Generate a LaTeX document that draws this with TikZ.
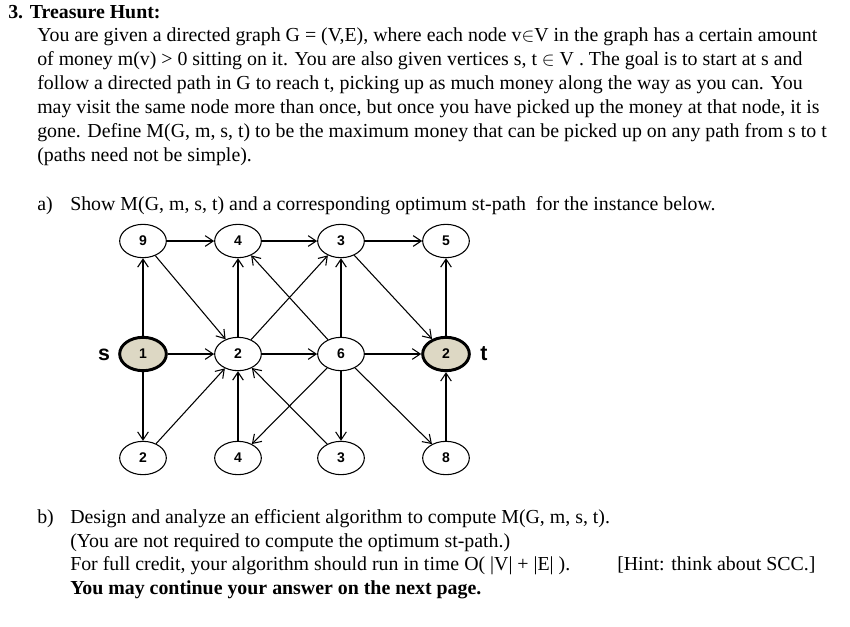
\documentclass[tikz,border=0pt]{standalone}
\usepackage{fontspec}
\setmainfont{Liberation Serif}
\newfontfamily\sansb{Liberation Sans}
\usetikzlibrary{arrows.meta,shapes.geometric}
\begin{document}
\begin{tikzpicture}[x=0.75pt,y=-0.75pt,
  txt/.style={anchor=base west,inner sep=0pt,font=\fontsize{14.9pt}{17pt}\selectfont},
  v/.style={ellipse,draw,line width=0.8pt,minimum width=35pt,minimum height=25pt,inner sep=0pt,font=\sansb\bfseries\fontsize{10.5pt}{12pt}\selectfont},
  st/.style={v,line width=2.2pt,fill={rgb,255:red,221;green,216;blue,196}},
  e/.style={-{Straight Barb[length=6pt,width=8pt]},line width=0.8pt},
  lab/.style={font=\sansb\bfseries\fontsize{16pt}{18pt}\selectfont,inner sep=0pt}]
\useasboundingbox (0,0) rectangle (850,626);
\node[txt,font=\bfseries\fontsize{14.9pt}{17pt}\selectfont] (t0) at (8,18) {3. Treasure Hunt:};
\node[txt] (l1) at (37,41) {You are given a directed graph G = (V,E), where each node v$\in$V in the graph has a certain amount};
\node[txt] (l2) at (37,65) {of money m(v) > 0 sitting on it. You are also given vertices s, t $\in$ V . The goal is to start at s and};
\node[txt] (l3) at (37,89) {follow a directed path in G to reach t, picking up as much money along the way as you can. You};
\node[txt] (l4) at (37,113) {may visit the same node more than once, but once you have picked up the money at that node, it is};
\node[txt] (l5) at (37,137) {gone. Define M(G, m, s, t) to be the maximum money that can be picked up on any path from s to t};
\node[txt] (l6) at (37,161) {(paths need not be simple).};
\node[txt] (a0) at (37,210) {a)};
\node[txt] (a1) at (70,210) {Show M(G, m, s, t) and a corresponding optimum st-path\ \ for the instance below.};
\node[txt] (b0) at (37,523) {b)};
\node[txt] (b1) at (70,523) {Design and analyze an efficient algorithm to compute M(G, m, s, t).};
\node[txt] (b2) at (70,547) {(You are not required to compute the optimum st-path.)};
\node[txt] (b3) at (70,570) {For full credit, your algorithm should run in time O( |V| + |E| ).};
\node[txt] (b4) at (617,570) {[Hint: think about SCC.]};
\node[txt,font=\bfseries\fontsize{14.9pt}{17pt}\selectfont] (b5) at (70,594) {You may continue your answer on the next page.};
% nodes
\node[v] (n9) at (143,241) {9};
\node[v] (n4t) at (238,241) {4};
\node[v] (n3t) at (341,241) {3};
\node[v] (n5) at (446,241) {5};
\node[st] (s) at (143,354) {1};
\node[v] (n2m) at (238,354) {2};
\node[v] (n6) at (341,354) {6};
\node[st] (t) at (446,354) {2};
\node[v] (n2b) at (143,458) {2};
\node[v] (n4b) at (238,458) {4};
\node[v] (n3b) at (341,458) {3};
\node[v] (n8) at (446,458) {8};
\node[lab] (ls) at (104,355) {s};
\node[lab] (lt) at (484,354) {t};
% edges
\draw[e] (n9) -- (n4t);
\draw[e] (n4t) -- (n3t);
\draw[e] (n3t) -- (n5);
\draw[e] (s) -- (n9);
\draw[e] (s) -- (n2b);
\draw[e] (s) -- (n2m);
\draw[e] (n9) -- (n2m);
\draw[e] (n2m) -- (n4t);
\draw[e] (n2m) -- (n3t);
\draw[e] (n2m) -- (n6);
\draw[e] (n6) -- (n4t);
\draw[e] (n6) -- (n3t);
\draw[e] (n6) -- (t);
\draw[e] (n6) -- (n4b);
\draw[e] (n6) -- (n3b);
\draw[e] (n6) -- (n8);
\draw[e] (n3t) -- (t);
\draw[e] (t) -- (n5);
\draw[e] (n8) -- (t);
\draw[e] (n2b) -- (n2m);
\draw[e] (n4b) -- (n2m);
\draw[e] (n3b) -- (n2m);
\end{tikzpicture}
\end{document}
